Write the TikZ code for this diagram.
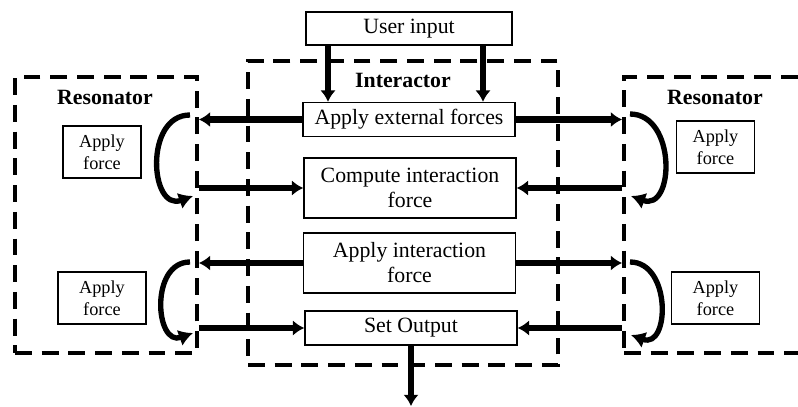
\documentclass[tikz,border=0pt]{standalone}
\usepackage{fontspec}
\setmainfont{Liberation Serif}
\usetikzlibrary{arrows.meta, fit}
\tikzstyle{process} = [rectangle, minimum width=5.3cm, minimum height=0.85cm, text centered, align=center, draw=black, line width=1.1pt, font=\fontsize{15.5}{17.8}\selectfont]
\tikzstyle{forcebox} = [rectangle, minimum height=1.3cm, text centered, align=center, draw=black, line width=1.1pt, font=\fontsize{13}{15.6}\selectfont]
\tikzstyle{group} = [rectangle, draw=black, line width=2.8pt, dash pattern=on 12pt off 7pt, inner sep=0pt]
\tikzstyle{title} = [font=\fontsize{15.5}{17.8}\selectfont\bfseries]
\tikzstyle{arrow} = [line width=4.4pt, -{Latex[length=8pt,width=11pt]}]
\tikzstyle{turn} = [line width=3.8pt, -{Latex[length=10pt,width=12pt]}]

\begin{document}
\begin{tikzpicture}[x=0.025cm, y=-0.025cm]
    \useasboundingbox (0,0) rectangle (798,407);

    % Groups
    \node (lres) [group, fit={(15,77) (197,353)}] {};
    \node (inter) [group, fit={(248,61) (558,365)}] {};
    \node (rres) [group, fit={(624,77) (840,353)}] {};
    \node (ltitle) [title] at (105,97) {Resonator};
    \node (ititle) [title] at (403,80) {Interactor};
    \node (rtitle) [title] at (715,97) {Resonator};

    % Nodes
    \node (user) [process, minimum width=5.15cm, minimum height=0.83cm] at (409,28.5) {User input};
    \node (ext) [process] at (409,119.5) {Apply external forces};
    \node (comp) [process, minimum height=1.5cm] at (410,188) {Compute interaction\\force};
    \node (apply) [process, minimum height=1.5cm] at (409.5,263) {Apply interaction\\force};
    \node (out) [process] at (411,328) {Set Output};
    \node (lforce1) [forcebox, minimum width=1.95cm] at (102,152) {Apply\\force};
    \node (lforce2) [forcebox, minimum width=2.2cm] at (102,298) {Apply\\force};
    \node (rforce1) [forcebox, minimum width=1.95cm] at (715.5,147) {Apply\\force};
    \node (rforce2) [forcebox, minimum width=2.2cm] at (715.5,298) {Apply\\force};

    % Free ends
    \coordinate (in1) at (328,0);
    \coordinate (in2) at (483,0);
    \coordinate (lturn1) at (190,115);
    \coordinate (lback1) at (193,196);
    \coordinate (lturn2) at (190,262);
    \coordinate (lback2) at (193,333);
    \coordinate (rturn1) at (630,114);
    \coordinate (rback1) at (631,196);
    \coordinate (rturn2) at (630,262);
    \coordinate (rback2) at (631,335);
    \coordinate (result) at (411,406);

    % Arrows
    \draw [arrow] (user.south -| in1) -- (ext.north -| in1);
    \draw [arrow] (user.south -| in2) -- (ext.north -| in2);
    \draw [arrow] (ext.west) -- (ext.west -| lres.east);
    \draw [arrow] (ext.east) -- (ext.east -| rres.west);
    \draw [arrow] (comp.west -| lres.east) -- (comp.west);
    \draw [arrow] (comp.east -| rres.west) -- (comp.east);
    \draw [arrow] (apply.west) -- (apply.west -| lres.east);
    \draw [arrow] (apply.east) -- (apply.east -| rres.west);
    \draw [arrow] (out.west -| lres.east) -- (out.west);
    \draw [arrow] (out.east -| rres.west) -- (out.east);
    \draw [turn] (lturn1) to[out=180, in=200, looseness=1.45] (lback1);
    \draw [turn] (lturn2) to[out=180, in=200, looseness=1.45] (lback2);
    \draw [turn] (rturn1) to[out=0, in=-20, looseness=1.45] (rback1);
    \draw [turn] (rturn2) to[out=0, in=-20, looseness=1.45] (rback2);
    \draw [arrow] (out.south) -- (result);

\end{tikzpicture}
\end{document}
